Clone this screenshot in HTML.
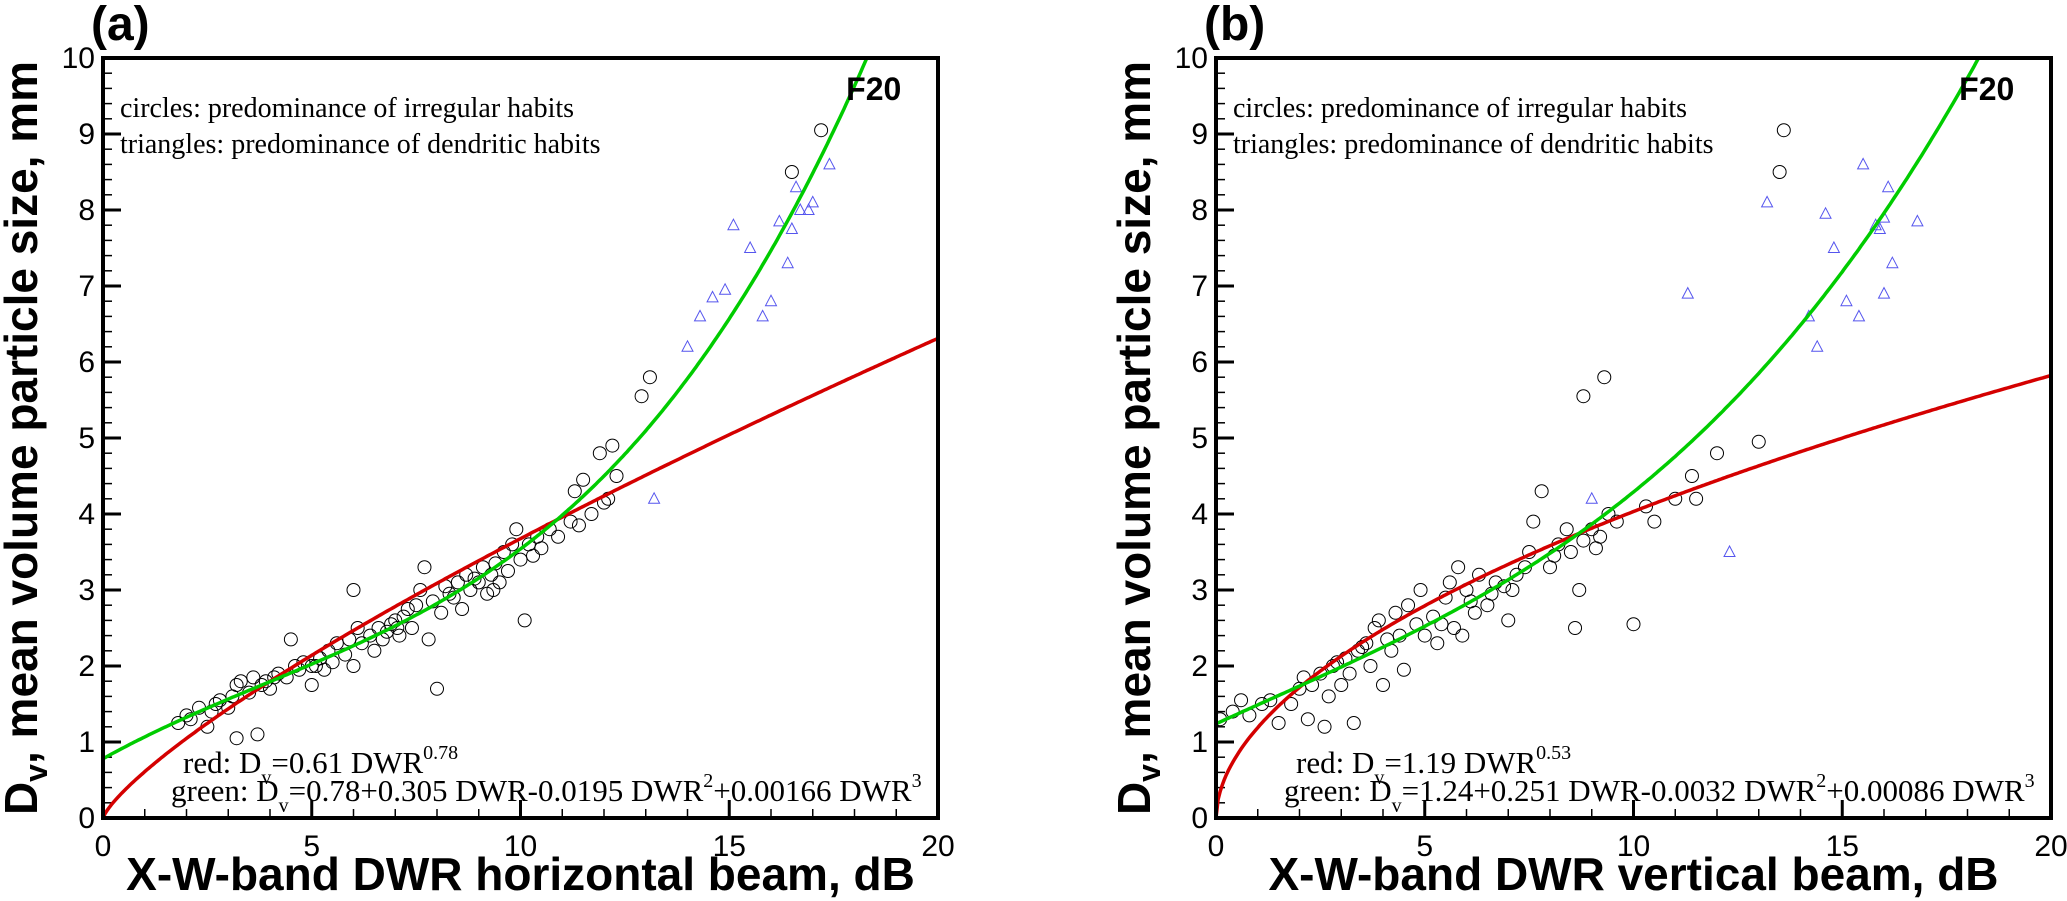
<!DOCTYPE html>
<html><head><meta charset="utf-8"><style>
html,body{margin:0;padding:0;background:#fff;}
svg{display:block}
</style></head><body>
<svg id="fig" width="2067" height="901" xmlns="http://www.w3.org/2000/svg"></svg>
<script>
const xTicks=[0,5,10,15,20];
const yTicks=[0,1,2,3,4,5,6,7,8,9,10];
const circlesA=[[1.8,1.25],[2,1.35],[2.1,1.3],[2.3,1.45],[2.5,1.2],[2.6,1.4],[2.7,1.5],[2.8,1.55],[3,1.45],[3.1,1.6],[3.2,1.75],[3.3,1.8],[3.2,1.05],[3.5,1.65],[3.6,1.85],[3.7,1.1],[3.8,1.75],[3.9,1.8],[4,1.7],[4.2,1.9],[4.4,1.85],[4.5,2.35],[4.6,2.0],[4.7,1.95],[4.8,2.05],[5,2.0],[5,1.75],[5.2,2.1],[5.3,1.95],[5.4,2.2],[5.5,2.05],[5.6,2.3],[5.8,2.15],[5.9,2.35],[6,3.0],[6,2.0],[6.1,2.5],[6.2,2.3],[6.4,2.4],[6.5,2.2],[6.6,2.5],[6.8,2.45],[7,2.6],[7.1,2.4],[7.2,2.65],[7.3,2.75],[7.4,2.5],[7.5,2.8],[7.6,3.0],[7.7,3.3],[7.8,2.35],[7.9,2.85],[8,1.7],[8.1,2.7],[8.2,3.05],[8.4,2.9],[8.5,3.1],[8.6,2.75],[8.7,3.2],[8.8,3.0],[9,3.1],[9.1,3.3],[9.2,2.95],[9.3,3.2],[9.4,3.35],[9.5,3.1],[9.6,3.5],[9.7,3.25],[9.8,3.6],[9.9,3.8],[10,3.4],[10.1,2.6],[10.2,3.6],[10.4,3.7],[10.5,3.55],[10.7,3.8],[10.9,3.7],[11.2,3.9],[11.3,4.3],[11.5,4.45],[11.4,3.85],[11.7,4.0],[11.9,4.8],[12,4.15],[12.2,4.9],[12.3,4.5],[12.1,4.2],[12.9,5.55],[13.1,5.8],[16.5,8.5],[17.2,9.05],[6.9,2.55],[8.3,2.95],[9.35,3.0],[5.1,2.0],[4.1,1.85],[6.7,2.35],[7.05,2.5],[8.9,3.15],[10.3,3.45]];
const trianglesA=[[13.2,4.2],[14,6.2],[14.3,6.6],[14.6,6.85],[14.9,6.95],[15.1,7.8],[15.5,7.5],[15.8,6.6],[16,6.8],[16.2,7.85],[16.4,7.3],[16.5,7.75],[16.7,8.0],[16.9,8.0],[17,8.1],[17.4,8.6],[16.6,8.3]];
const circlesB=[[0.1,1.3],[0.4,1.4],[0.6,1.55],[0.8,1.35],[1.1,1.5],[1.3,1.55],[1.5,1.25],[1.8,1.5],[2,1.7],[2.1,1.85],[2.2,1.3],[2.3,1.75],[2.5,1.9],[2.6,1.2],[2.7,1.6],[2.8,2.0],[3,1.75],[3.1,2.1],[3.2,1.9],[3.3,1.25],[3.4,2.2],[3.6,2.3],[3.7,2.0],[3.8,2.5],[3.9,2.6],[4,1.75],[4.1,2.35],[4.3,2.7],[4.4,2.4],[4.6,2.8],[4.8,2.55],[4.9,3.0],[5,2.4],[5.2,2.65],[5.3,2.3],[5.5,2.9],[5.6,3.1],[5.8,3.3],[5.9,2.4],[6,3.0],[6.2,2.7],[6.3,3.2],[6.5,2.8],[6.7,3.1],[6.9,3.05],[7,2.6],[7.2,3.2],[7.4,3.3],[7.5,3.5],[7.6,3.9],[7.8,4.3],[8,3.3],[8.2,3.6],[8.4,3.8],[8.5,3.5],[8.6,2.5],[8.7,3.0],[8.8,3.65],[8.8,5.55],[9,3.8],[9.2,3.7],[9.3,5.8],[9.4,4.0],[9.6,3.9],[10,2.55],[10.3,4.1],[10.5,3.9],[11,4.2],[11.4,4.5],[11.5,4.2],[12,4.8],[13,4.95],[13.5,8.5],[13.6,9.05],[4.5,1.95],[5.4,2.55],[6.6,2.95],[3.5,2.25],[2.9,2.05],[5.7,2.5],[6.1,2.85],[7.1,3.0],[8.1,3.45],[9.1,3.55],[4.2,2.2]];
const trianglesB=[[9,4.2],[11.3,6.9],[12.3,3.5],[13.2,8.1],[14.2,6.6],[14.4,6.2],[14.6,7.95],[14.8,7.5],[15.1,6.8],[15.4,6.6],[15.5,8.6],[15.8,7.8],[15.9,7.75],[16,7.9],[16.1,8.3],[16,6.9],[16.2,7.3],[16.8,7.85]];
const redA=[0.61,0.78], greenA=[0.78,0.305,-0.0195,0.00166];
const redB=[1.19,0.53], greenB=[1.24,0.251,-0.0032,0.00086];

const NS='http://www.w3.org/2000/svg';
const svg=document.getElementById('fig');
function el(tag,attrs,parent,text){const e=document.createElementNS(NS,tag);for(const k in attrs)e.setAttribute(k,attrs[k]);if(text!==undefined)e.textContent=text;(parent||svg).appendChild(e);return e;}

function panel(cfg){
  const L=cfg.left,R=cfg.left+835,T=58,B=818;
  const sx=v=>L+(v/20)*(R-L), sy=v=>B-(v/10)*(B-T);
  const g=el('g',{});
  
  
  const cp=el('clipPath',{id:'clip'+cfg.id},g);el('rect',{x:L,y:T,width:R-L,height:B-T},cp);
  for(let i=0;i<=20;i++){const x=sx(i),len=i%5?9:18;
    el('line',{x1:x,y1:B,x2:x,y2:B-len,stroke:'#000','stroke-width':i%5?1.5:3},g);}
  for(let i=0;i<=50;i++){const y=sy(i/5),len=i%5?9:18;
    el('line',{x1:L,y1:y,x2:L+len,y2:y,stroke:'#000','stroke-width':i%5?1.5:3},g);}
  xTicks.forEach(v=>{const t=el('text',{x:sx(v),y:B+38,'text-anchor':'middle','font-family':'Liberation Sans, sans-serif','font-size':30},g,String(v));
    });
  yTicks.forEach(v=>{const t=el('text',{x:L-8,y:sy(v)+10,'text-anchor':'end','font-family':'Liberation Sans, sans-serif','font-size':30},g,String(v));
    });
  const cg=el('g',{'clip-path':'url(#clip'+cfg.id+')'},g);
  let pr='',pg='';
  for(let i=0;i<=400;i++){const x=i*20/400;
    const r=cfg.red[0]*Math.pow(x,cfg.red[1]);
    const gr=cfg.green[0]+cfg.green[1]*x+cfg.green[2]*x*x+cfg.green[3]*x*x*x;
    pr+=(i?'L':'M')+sx(x).toFixed(1)+' '+sy(r).toFixed(1);
    pg+=(i?'L':'M')+sx(x).toFixed(1)+' '+sy(gr).toFixed(1);}
  cfg.circles.forEach(p=>{const c=el('circle',{cx:sx(p[0]),cy:sy(p[1]),r:6.5,fill:'none',stroke:'#000','stroke-width':1},cg);
    });
  cfg.tris.forEach(p=>{const x=sx(p[0]),y=sy(p[1]);
    const t=el('polygon',{points:`${x},${y-6} ${x-5.5},${y+4.5} ${x+5.5},${y+4.5}`,fill:'none',stroke:'#5555ee','stroke-width':1},cg);
    });
  const rl=el('path',{d:pr,fill:'none',stroke:'#d40000','stroke-width':3.5},cg);
  
  const gl=el('path',{d:pg,fill:'none',stroke:'#00cc00','stroke-width':3.5},cg);
  
  el('rect',{x:L,y:T,width:R-L,height:B-T,fill:'none',stroke:'#000','stroke-width':4},g);
  const serif='Liberation Serif, serif';
  const a1=el('text',{x:L+17,y:117,'font-family':serif,'font-size':28},g,'circles: predominance of irregular habits');
  
  const a2=el('text',{x:L+17,y:153,'font-family':serif,'font-size':28},g,'triangles: predominance of dendritic habits');
  
  const f=el('text',{x:sx(17.8),y:100,'font-family':'Liberation Sans, sans-serif','font-size':32,'font-weight':'bold'},g,'F20');
  
  const e1=el('text',{x:L+80,y:773,'font-family':serif,'font-size':31},g);
  
  e1.innerHTML=`red: D<tspan dy="11" font-size="20">v</tspan><tspan dy="-11">=${cfg.redTxt} DWR</tspan><tspan dy="-14" font-size="20">${cfg.red[1]}</tspan>`;
  const e2=el('text',{x:L+68,y:801,'font-family':serif,'font-size':31},g);
  
  e2.innerHTML=`green:  D<tspan dy="11" font-size="20">v</tspan><tspan dy="-11">=${cfg.greenTxt[0]} DWR-${cfg.greenTxt[1]} DWR</tspan><tspan dy="-14" font-size="20">2</tspan><tspan dy="14">+${cfg.greenTxt[2]} DWR</tspan><tspan dy="-14" font-size="20">3</tspan>`;
  const xt=el('text',{x:(L+R)/2,y:890,'text-anchor':'middle','font-family':'Liberation Sans, sans-serif','font-size':46,'font-weight':'bold'},g,cfg.xtitle);
  
  const yt=el('text',{transform:`translate(${L-66},${(T+B)/2}) rotate(-90)`,'text-anchor':'middle','font-family':'Liberation Sans, sans-serif','font-size':46,'font-weight':'bold'},g);
  
  yt.innerHTML='D<tspan dy="10" font-size="32">v</tspan><tspan dy="-10">, mean volume particle size, mm</tspan>';
  const pl=el('text',{x:L-12,y:40,'font-family':'Liberation Sans, sans-serif','font-size':48,'font-weight':'bold'},g,cfg.label);
  
}
panel({id:'a',left:103,circles:circlesA,tris:trianglesA,red:redA,green:greenA,redTxt:'0.61',greenTxt:['0.78+0.305','0.0195','0.00166'],xtitle:'X-W-band DWR horizontal beam, dB',label:'(a)'});
panel({id:'b',left:1216,circles:circlesB,tris:trianglesB,red:redB,green:greenB,redTxt:'1.19',greenTxt:['1.24+0.251','0.0032','0.00086'],xtitle:'X-W-band DWR vertical beam, dB',label:'(b)'});
</script>
</body></html>
